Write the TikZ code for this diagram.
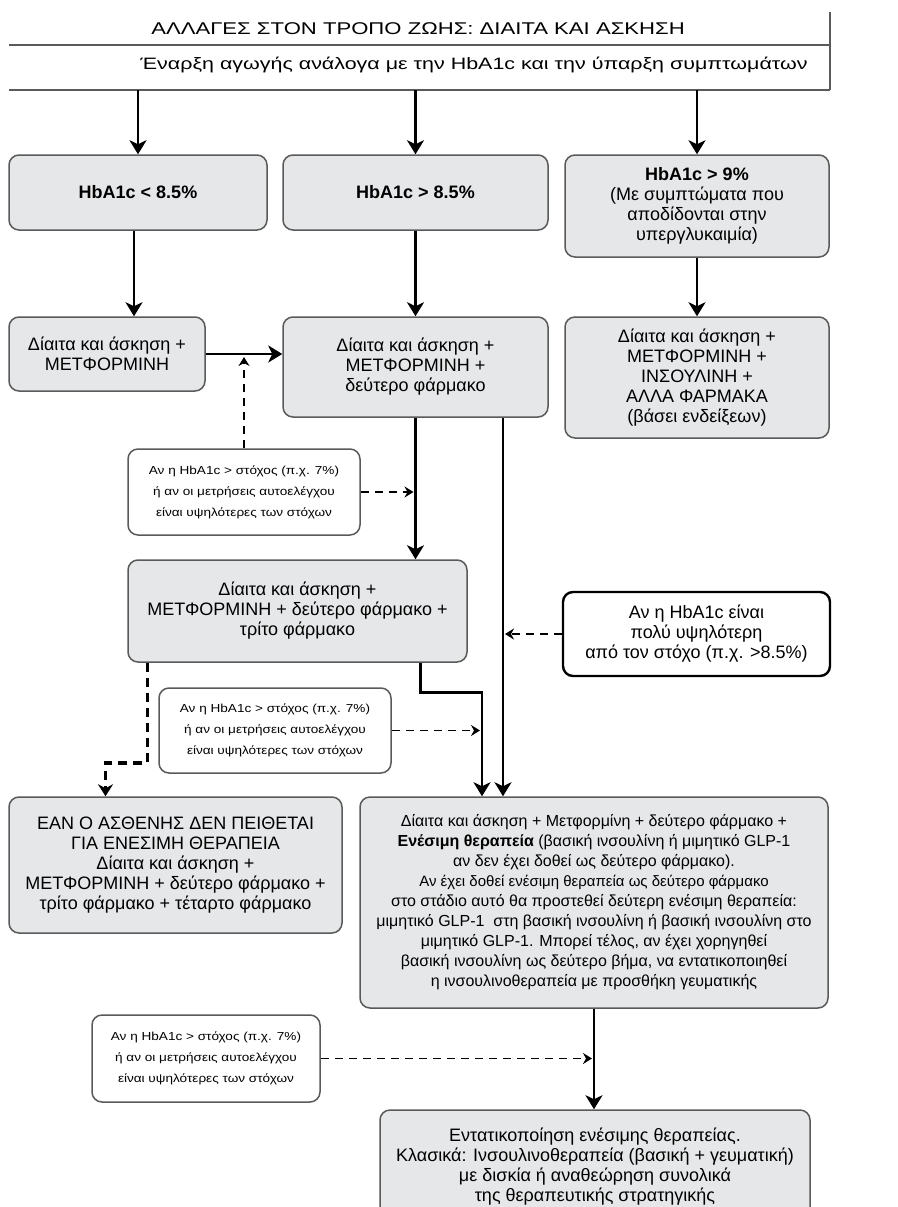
\documentclass[tikz,border=0pt]{standalone}
\usepackage{fontspec}
\setmainfont{Liberation Sans}
\newfontfamily\widefont{Liberation Sans}[FakeStretch=1.3]
\newfontfamily\notefont{Liberation Sans}[FakeStretch=1.17]
\usetikzlibrary{arrows.meta}
\definecolor{boxgray}{HTML}{E6E7E8}
\definecolor{edgegray}{HTML}{5A5A5A}
\begin{document}
\begin{tikzpicture}[
  x=1pt,y=-1pt,
  box/.style={draw=edgegray, line width=1.5pt, fill=boxgray, rounded corners=10pt, align=center, inner sep=0pt, font=\fontsize{18}{20}\selectfont},
  note/.style={draw=edgegray, line width=1.5pt, fill=white, rounded corners=10pt, align=center, inner sep=0pt, font=\notefont\fontsize{11.6}{21}\selectfont},
  arrow/.style={-{Stealth[length=14pt,width=17pt,inset=4pt]}, line width=2.6pt},
  darrow/.style={-{Stealth[length=9pt,width=11pt,inset=3pt]}, line width=1.8pt, dash pattern=on 8pt off 6pt},
  tdarrow/.style={-{Stealth[length=12pt,width=15pt,inset=4pt]}, line width=3.5pt, dash pattern=on 9pt off 6pt}
]
\clip (0,0) rectangle (897,1207);
\fill[white] (0,0) rectangle (897,1207);

\draw[edgegray, line width=1.5pt] (9,45) -- (830,45);
\draw[edgegray, line width=1.5pt] (9,90) -- (830,90);
\draw[edgegray, line width=1.5pt] (830,12) -- (830,90);
\node[font=\widefont\fontsize{17}{20}\selectfont] (title) at (418,29) {ΑΛΛΑΓΕΣ ΣΤΟΝ ΤΡΟΠΟ ΖΩΗΣ: ΔΙΑΙΤΑ ΚΑΙ ΑΣΚΗΣΗ};
\node[font=\widefont\fontsize{16.5}{20}\selectfont] (start) at (474,65) {Έναρξη αγωγής ανάλογα με την HbA1c και την ύπαρξη συμπτωμάτων};
\coordinate (hdr) at (0,90);

\node[box, minimum width=258, minimum height=75] (low) at (138,192.5) {\bfseries HbA1c < 8.5\%};
\node[box, minimum width=265, minimum height=75] (mid) at (415.5,192.5) {\bfseries HbA1c > 8.5\%};
\node[box, minimum width=264, minimum height=102] (high) at (697,206) {\textbf{HbA1c > 9\%}\\(Με συμπτώματα που\\αποδίδονται στην\\υπεργλυκαιμία)};

\node[box, minimum width=196, minimum height=74] (met) at (107,354) {Δίαιτα και άσκηση +\\ΜΕΤΦΟΡΜΙΝΗ};
\node[box, minimum width=265, minimum height=100] (two) at (415.5,367) {Δίαιτα και άσκηση +\\ΜΕΤΦΟΡΜΙΝΗ +\\δεύτερο φάρμακο};
\node[box, minimum width=264, minimum height=121] (ins) at (697,377.5) {Δίαιτα και άσκηση +\\ΜΕΤΦΟΡΜΙΝΗ +\\ΙΝΣΟΥΛΙΝΗ +\\ΑΛΛΑ ΦΑΡΜΑΚΑ\\(βάσει ενδείξεων)};

\node[note, minimum width=232, minimum height=86] (chk1) at (244,492) {Αν η HbA1c > στόχος (π.χ. 7\%)\\ή αν οι μετρήσεις αυτοελέγχου\\είναι υψηλότερες των στόχων};
\node[box, minimum width=339, minimum height=102] (three) at (297.5,611) {Δίαιτα και άσκηση +\\ΜΕΤΦΟΡΜΙΝΗ + δεύτερο φάρμακο +\\τρίτο φάρμακο};
\node[note, draw=black, line width=2.4pt, minimum width=267, minimum height=84, font=\fontsize{18}{20}\selectfont] (far) at (696.5,634) {Αν η HbA1c είναι\\πολύ υψηλότερη\\από τον στόχο (π.χ. >8.5\%)};
\node[note, minimum width=232, minimum height=85] (chk2) at (275,730.5) {Αν η HbA1c > στόχος (π.χ. 7\%)\\ή αν οι μετρήσεις αυτοελέγχου\\είναι υψηλότερες των στόχων};

\node[box, minimum width=333, minimum height=136] (four) at (175.5,865) {ΕΑΝ Ο ΑΣΘΕΝΗΣ ΔΕΝ ΠΕΙΘΕΤΑΙ\\ΓΙΑ ΕΝΕΣΙΜΗ ΘΕΡΑΠΕΙΑ\\Δίαιτα και άσκηση +\\ΜΕΤΦΟΡΜΙΝΗ + δεύτερο φάρμακο +\\τρίτο φάρμακο + τέταρτο φάρμακο};
\node[box, minimum width=468, minimum height=211, font=\fontsize{16}{20}\selectfont] (inj) at (594,902.5) {Δίαιτα και άσκηση + Μετφορμίνη + δεύτερο φάρμακο +\\\textbf{Ενέσιμη θεραπεία} (βασική ινσουλίνη ή μιμητικό GLP-1\\αν δεν έχει δοθεί ως δεύτερο φάρμακο).\\\fontsize{15}{20}\selectfont Αν έχει δοθεί ενέσιμη θεραπεία ως δεύτερο φάρμακο\\στο στάδιο αυτό θα προστεθεί δεύτερη ενέσιμη θεραπεία:\\μιμητικό GLP-1 \ στη βασική ινσουλίνη ή βασική ινσουλίνη στο\\μιμητικό GLP-1. Μπορεί τέλος, αν έχει χορηγηθεί\\βασική ινσουλίνη ως δεύτερο βήμα, να εντατικοποιηθεί\\η ινσουλινοθεραπεία με προσθήκη γευματικής};
\node[note, minimum width=228, minimum height=87] (chk3) at (206,1058.5) {Αν η HbA1c > στόχος (π.χ. 7\%)\\ή αν οι μετρήσεις αυτοελέγχου\\είναι υψηλότερες των στόχων};
\node[box, minimum width=430, minimum height=114] (intense) at (595,1167) {Εντατικοποίηση ενέσιμης θεραπείας.\\Κλασικά: Ινσουλινοθεραπεία (βασική + γευματική)\\με δισκία ή αναθεώρηση συνολικά\\της θεραπευτικής στρατηγικής};

\coordinate (e2h) at ([xshift=-91pt]inj.north);
\coordinate (g2h) at ([xshift=-112pt]inj.north);

\draw[arrow] (low.north |- hdr) -- (low.north);
\draw[arrow] (mid.north |- hdr) -- (mid.north);
\draw[arrow] (high.north |- hdr) -- (high.north);
\draw[arrow] ([xshift=-4pt]low.south) -- ([xshift=-4pt]low.south |- met.north);
\draw[arrow] (mid) -- (two);
\draw[arrow] (high) -- (ins);
\draw[arrow] (met.east) -- (met.east -| two.west);
\draw[arrow] (two.south) -- (two.south |- three.north);
\draw[arrow] (two.south -| e2h) -- (e2h);
\draw[arrow] ([xshift=-47pt]three.south east) -- ++(0,30) -| (g2h);
\draw[arrow] (inj.south) -- (inj.south |- intense.north);

\draw[darrow, shorten >=3pt] (chk1.north) -- (chk1.north |- met.east);
\draw[darrow, shorten >=2pt] (chk1.east) -- (chk1.east -| two.south);
\draw[darrow, shorten >=2pt] (far.west) -- (far.west -| e2h);
\draw[darrow, shorten >=2pt] (chk2.east) -- (chk2.east -| g2h);
\draw[darrow, shorten >=2pt] (chk3.east) -- (chk3.east -| inj.south);
\draw[tdarrow] ([xshift=20pt]three.south west) -- ++(0,100) -| ([xshift=-70pt]four.north);
\end{tikzpicture}
\end{document}
